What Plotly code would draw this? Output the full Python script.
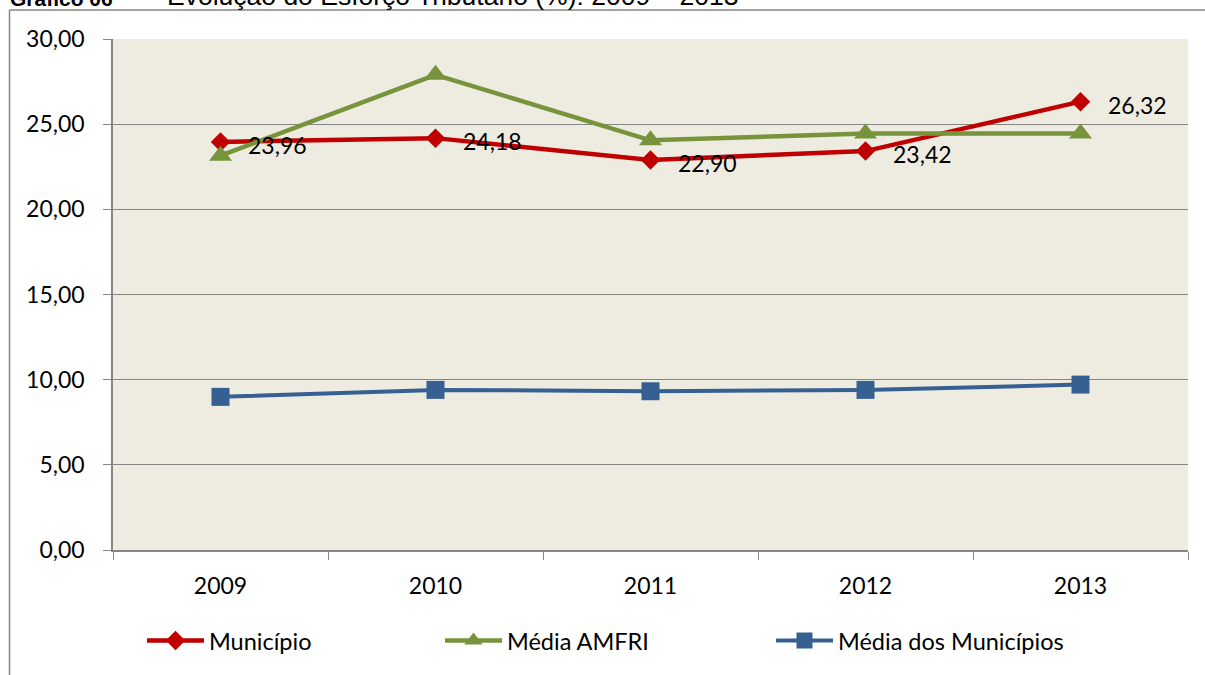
import plotly.graph_objects as go

# ---- data ----
anos = ["2009", "2010", "2011", "2012", "2013"]
municipio = [23.96, 24.18, 22.90, 23.42, 26.32]
media_amfri = [23.15, 27.90, 24.05, 24.45, 24.45]
media_municipios = [8.99, 9.40, 9.32, 9.40, 9.71]
y_ticks = [0, 5, 10, 15, 20, 25, 30]

titulo_bold = "Gráfico 06"
titulo_traco = "–"
titulo_resto = "Evolução do Esforço Tributário (%): 2009 – 2013"

# ---- layout geometry (pixels) ----
W, H = 1205, 675
L, R, T, B = 113, 1188, 39, 552

def px_x(px):
    return (px - L) / (R - L)

def px_y(py):
    return (B - py) / (B - T)

FONT = "Lato"
GRAY = "rgb(134,134,134)"
RED = "#C00000"
GREEN = "#77933C"
BLUE = "#376092"

fig = go.Figure()

fig.add_trace(go.Scatter(
    x=anos, y=municipio, name="Município", mode="lines+markers",
    line=dict(color=RED, width=4.5),
    marker=dict(symbol="diamond", size=15, color=RED),
    legend="legend",
))
fig.add_trace(go.Scatter(
    x=anos, y=media_amfri, name="Média AMFRI", mode="lines+markers",
    line=dict(color=GREEN, width=4.5),
    marker=dict(symbol="triangle-up", size=20, color=GREEN),
    legend="legend2",
))
fig.add_trace(go.Scatter(
    x=anos, y=media_municipios, name="Média dos Municípios", mode="lines+markers",
    line=dict(color=BLUE, width=4),
    marker=dict(symbol="square", size=18, color=BLUE),
    legend="legend3",
))

annotations = []
for i, v in enumerate(municipio):
    annotations.append(dict(
        x=i, y=v, xref="x", yref="y", text=f"{v:.2f}".replace(".", ","),
        showarrow=False, xanchor="left", yanchor="middle", xshift=25, yshift=-3,
        font=dict(family=FONT, size=23, color="black"),
    ))

title_font_b = dict(family="Liberation Sans", size=21, color="black")
title_font = dict(family="Liberation Sans", size=26.5, color="black")
annotations.append(dict(
    x=px_x(8), y=px_y(12), xref="paper", yref="paper", text=f"<b>{titulo_bold}</b>",
    showarrow=False, xanchor="left", yanchor="bottom", font=title_font_b,
))
annotations.append(dict(
    x=px_x(122), y=px_y(12.5), xref="paper", yref="paper", text=titulo_traco,
    showarrow=False, xanchor="left", yanchor="bottom", font=title_font,
))
annotations.append(dict(
    x=px_x(165), y=px_y(12.5), xref="paper", yref="paper", text=titulo_resto,
    showarrow=False, xanchor="left", yanchor="bottom", font=title_font,
))

shapes = [
    dict(type="line", xref="paper", yref="paper",
         x0=px_x(9.5), x1=px_x(W + 5), y0=px_y(10), y1=px_y(10),
         line=dict(color=GRAY, width=1.5)),
    dict(type="line", xref="paper", yref="paper",
         x0=px_x(9.5), x1=px_x(9.5), y0=px_y(10), y1=px_y(H + 5),
         line=dict(color=GRAY, width=1.5)),
]

leg_common = dict(orientation="h", yanchor="middle", xanchor="left",
                  font=dict(family=FONT, size=23.5, color="black"),
                  itemwidth=57, bgcolor="rgba(0,0,0,0)", borderwidth=0,
                  itemsizing="trace")

fig.update_layout(
    width=W, height=H, autosize=False,
    margin=dict(l=L, r=W - R, t=T, b=H - B, pad=0),
    paper_bgcolor="white", plot_bgcolor="#EEECE1",
    separators=",.",
    showlegend=True,
    legend=dict(x=px_x(142), y=px_y(643), **leg_common),
    legend2=dict(x=px_x(440), y=px_y(643), **leg_common),
    legend3=dict(x=px_x(771), y=px_y(643), **leg_common),
    xaxis=dict(
        type="category", range=[-0.5, 4.5], tickson="boundaries",
        ticks="outside", ticklen=8, tickcolor=GRAY, tickwidth=1.3,
        showline=True, linecolor=GRAY, linewidth=1.5,
        showgrid=False, zeroline=False,
        tickfont=dict(family=FONT, size=23, color="black"),
        ticklabelstandoff=15,
    ),
    yaxis=dict(
        range=[0, 30], tickvals=y_ticks, tickformat=".2f",
        ticks="outside", ticklen=8, tickcolor=GRAY, tickwidth=1.3,
        showline=True, linecolor=GRAY, linewidth=1.5,
        showgrid=True, gridcolor=GRAY, gridwidth=1.3, zeroline=False,
        tickfont=dict(family=FONT, size=23, color="black"),
        ticklabelstandoff=14,
    ),
    annotations=annotations,
    shapes=shapes,
)

fig.write_html("out.html", config={"displayModeBar": False},
               post_script="document.body.style.margin='0px';")
